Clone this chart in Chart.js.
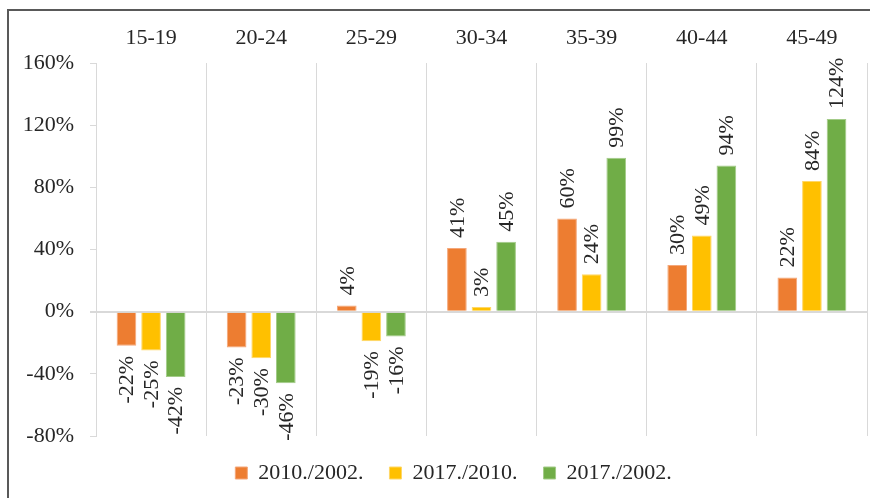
<!DOCTYPE html>
<html>
<head>
<meta charset="utf-8">
<script src="https://cdn.jsdelivr.net/npm/chart.js@4/dist/chart.umd.min.js"></script>
<style>
  html, body { margin: 0; padding: 0; background: #fff; overflow: hidden; }
  .frame {
    position: absolute; left: 7px; top: 9px; width: 900px; height: 600px;
    border-left: 2px solid #595959; border-top: 2px solid #595959;
  }
  .wrap { position: absolute; left: 0; top: 0; width: 870px; height: 498px; }
</style>
</head>
<body>
<div class="frame"></div>
<div class="wrap"><canvas id="myChart" width="870" height="498"></canvas></div>
<script>
const ageGroups = ["15-19", "20-24", "25-29", "30-34", "35-39", "40-44", "45-49"];
const change2010vs2002 = [-22, -23, 4, 41, 60, 30, 22];
const change2017vs2010 = [-25, -30, -19, 3, 24, 49, 84];
const change2017vs2002 = [-42, -46, -16, 45, 99, 94, 124];
const yTicks = [-80, -40, 0, 40, 80, 120, 160];

const serif = "'Liberation Serif', 'DejaVu Serif', serif";
const textColor = "#262626";

// rotated value labels above / below each bar
const barLabels = {
    id: "barLabels",
    afterDatasetsDraw(chart) {
        const ctx = chart.ctx;
        ctx.save();
        ctx.font = "22px " + serif;
        ctx.fillStyle = textColor;
        ctx.textBaseline = "middle";
        chart.data.datasets.forEach((ds, i) => {
            const meta = chart.getDatasetMeta(i);
            meta.data.forEach((bar, j) => {
                const v = ds.data[j];
                ctx.save();
                ctx.translate(bar.x + 1, bar.y);
                ctx.rotate(-Math.PI / 2);
                if (v >= 0) {
                    ctx.textAlign = "left";
                    ctx.fillText(v + "%", 10, 0);
                } else {
                    ctx.textAlign = "right";
                    ctx.fillText(v + "%", -10, 0);
                }
                ctx.restore();
            });
        });
        ctx.restore();
    },
};

// the original chart is wider than the crop, so its legend sits right of centre
const legendShift = {
    id: "legendShift",
    afterLayout(chart) {
        if (chart.legend) {
            chart.legend.left += 20;
            chart.legend.right += 20;
        }
    },
};

const ctx = document.getElementById("myChart");
new Chart(ctx, {
    type: "bar",
    data: {
        labels: ageGroups,
        datasets: [
            {
                label: "2010./2002.",
                data: change2010vs2002,
                backgroundColor: "#ED7D31",
                borderColor: "#F4A77A",
                borderWidth: 1,
            },
            {
                label: "2017./2010.",
                data: change2017vs2010,
                backgroundColor: "#FFC000",
                borderColor: "#FFD766",
                borderWidth: 1,
            },
            {
                label: "2017./2002.",
                data: change2017vs2002,
                backgroundColor: "#70AD47",
                borderColor: "#A3CB88",
                borderWidth: 1,
            },
        ],
    },
    options: {
        responsive: false,
        animation: false,
        devicePixelRatio: 1,
        layout: { padding: { left: 0, right: 3, top: 0, bottom: 4 } },
        datasets: {
            bar: { categoryPercentage: 0.67, barPercentage: 0.8 },
        },
        scales: {
            x: {
                position: "top",
                offset: true,
                border: { display: false },
                grid: {
                    offset: true,
                    drawTicks: false,
                    color: "#d9d9d9",
                    lineWidth: 1,
                },
                ticks: {
                    padding: 12,
                    color: textColor,
                    font: { family: serif, size: 22 },
                    maxRotation: 0,
                },
                afterFit(scale) { scale.height = 63; },
            },
            y: {
                min: -80,
                max: 160,
                afterBuildTicks(scale) {
                    scale.ticks = yTicks.map((v) => ({ value: v }));
                },
                border: { display: true, color: "#d9d9d9", width: 1 },
                grid: {
                    drawTicks: true,
                    tickLength: 6,
                    tickColor: "#d9d9d9",
                    color: (c) => (c.tick && c.tick.value === 0 ? "#d9d9d9" : "rgba(0,0,0,0)"),
                    lineWidth: (c) => (c.tick && c.tick.value === 0 ? 2 : 1),
                },
                ticks: {
                    padding: 16,
                    color: textColor,
                    font: { family: serif, size: 22 },
                    callback: (v) => v + "%",
                },
                afterFit(scale) { scale.width = 96; },
            },
        },
        plugins: {
            tooltip: { enabled: false },
            legend: {
                position: "bottom",
                labels: {
                    boxWidth: 12,
                    boxHeight: 12,
                    padding: 26,
                    color: textColor,
                    font: { family: serif, size: 22 },
                },
            },
        },
    },
    plugins: [barLabels, legendShift],
});
</script>
</body>
</html>
